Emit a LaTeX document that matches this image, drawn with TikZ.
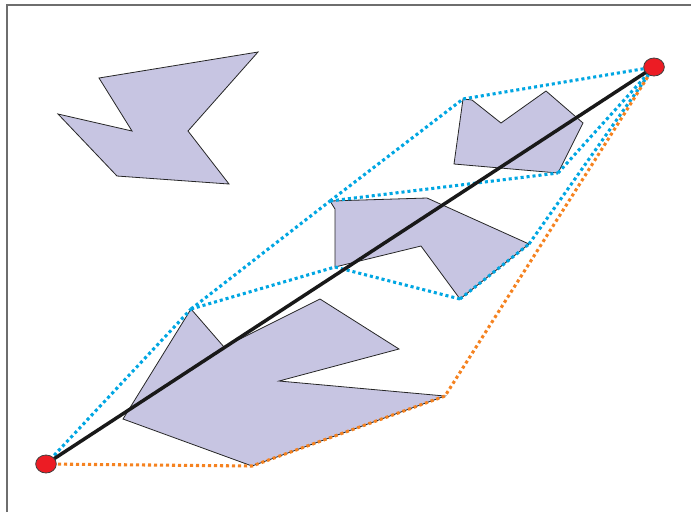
\documentclass[tikz,border=0pt]{standalone}
\usetikzlibrary{shapes.geometric}
\definecolor{obst}{RGB}{199,197,226}
\definecolor{vblue}{RGB}{0,166,226}
\definecolor{vorange}{RGB}{245,130,32}
\definecolor{ptred}{RGB}{236,28,36}
\definecolor{framegray}{RGB}{110,110,110}
\tikzset{
  obstacle/.style={fill=obst, draw=black!85, line width=0.6pt, line join=miter},
  visedge/.style={vblue, line width=2.3pt, dash pattern=on 2.3pt off 2.2pt},
  pathedge/.style={vorange, line width=2.3pt, dash pattern=on 2.3pt off 2.2pt},
  direct/.style={black!90, line width=2.6pt},
  endpt/.style={ellipse, fill=ptred, draw=black!75, line width=0.6pt, minimum width=15.5pt, minimum height=13.5pt, inner sep=0pt},
  frameline/.style={framegray, line width=0.8pt}
}
\begin{document}
\begin{tikzpicture}[x=0.75pt, y=-0.75pt]
\useasboundingbox (0,0) rectangle (691,512);
\draw[frameline] (7,512) -- (7,5) -- (691,5);
% obstacle 1 (top left)
\draw[obstacle] (99,78) -- (258,52) -- (188,131) -- (229,184) -- (117,176) -- (58,114) -- (132,131) -- cycle;
% obstacle 2 (top right)
\coordinate (b1) at (463,99);
\coordinate (b2) at (558,173);
\draw[obstacle] (b1) -- (472,100) -- (501,123) -- (546,91) -- (583,123) -- (b2) -- (454,164) -- cycle;
% obstacle 3 (middle)
\coordinate (c1) at (330,201);
\coordinate (c2) at (529,244);
\coordinate (c3) at (460,299);
\coordinate (c4) at (335,267);
\draw[obstacle] (c1) -- (427,198) -- (c2) -- (c3) -- (421,246) -- (c4) -- (335,209) -- cycle;
% obstacle 4 (bottom)
\coordinate (d1) at (191,309);
\coordinate (d2) at (445,396);
\coordinate (d3) at (252,466);
\draw[obstacle] (d1) -- (224,347) -- (320,299) -- (399,349) -- (279,381) -- (d2) -- (d3) -- (123,419) -- cycle;
% start and goal positions
\coordinate (s) at (46,464);
\coordinate (g) at (654,67);
% visibility edges (blue)
\draw[visedge] (s) -- (d1);
\draw[visedge] (d1) -- (c1);
\draw[visedge] (d1) -- (c4);
\draw[visedge] (c4) -- (c3);
\draw[visedge] (c3) -- (c2);
\draw[visedge] (c2) -- (g);
\draw[visedge] (c1) -- (b1);
\draw[visedge] (c1) -- (b2);
\draw[visedge] (b1) -- (g);
\draw[visedge] (b2) -- (g);
% shortest path (orange)
\draw[pathedge] (s) -- (d3) -- (d2) -- (g);
% direct line
\draw[direct] (s) -- (g);
% endpoints
\node[endpt] (S) at (s) {};
\node[endpt] (G) at (g) {};
\end{tikzpicture}
\end{document}
